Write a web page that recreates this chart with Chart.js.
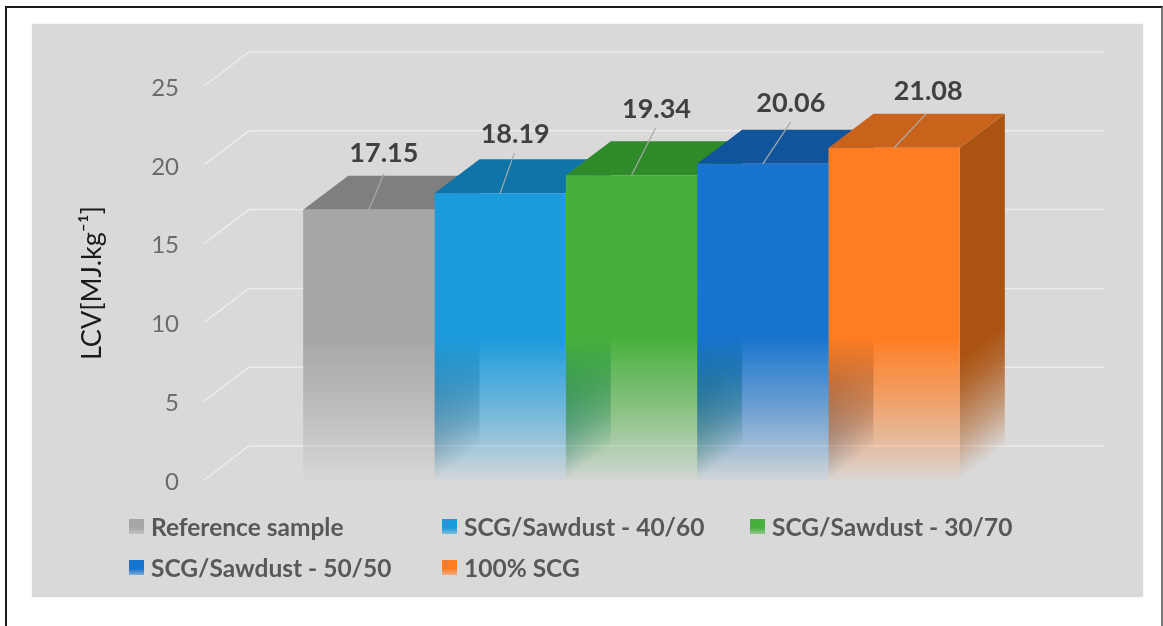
<!DOCTYPE html>
<html>
<head>
<meta charset="utf-8">
<title>LCV</title>
<script src="https://cdn.jsdelivr.net/npm/chart.js@4"></script>
<style>
    html, body { margin: 0; padding: 0; background: #fff; overflow: hidden; }
    #wrap { position: relative; width: 1163px; height: 626px; overflow: hidden; }
    #frame { position: absolute; left: 5px; top: 6px; width: 1154px; height: 640px; border: 2px solid #1a1a1a; border-right-color: #777; }
    #panel { position: absolute; left: 32px; top: 24px; width: 1111px; height: 573px; background: #d9d9d9; box-shadow: 0 0 2px #e8e8e8; }
    canvas { position: absolute; left: 0; top: 0; filter: blur(0.6px); }
</style>
</head>
<body>
<div id="wrap">
    <div id="frame"></div>
    <div id="panel"></div>
    <canvas id="grafica" width="1163" height="626"></canvas>
</div>
<script>
const categorias = [''];
const series = ['Reference sample', 'SCG/Sawdust - 40/60', 'SCG/Sawdust - 30/70', 'SCG/Sawdust - 50/50', '100% SCG'];
const valores = [17.15, 18.19, 19.34, 20.06, 21.08];
const colorFrente = ['166,166,166', '27,155,220', '71,176,60', '24,116,205', '255,125,34'];
const colorArriba = ['127,127,127', '15,116,168', '47,138,42', '16,84,156', '201,98,26'];
const colorLado = ['105,105,105', '14,92,135', '36,105,32', '12,62,115', '171,83,17'];

// desplazamiento de la pared del fondo respecto al plano frontal
const fondoX = 45;
const fondoY = -34;

// etiquetas: posicion relativa a la parte alta del frente de cada barra
const etiquetaDx = [15, 15, 25, 28, 34];
const etiquetaDy = [-56, -59, -66, -61, -56];
const lineaDx = [15, 14, 24, 28, 32];
const lineaDy = [-36, -40, -47, -42, -34];

const leyendaX = [129, 442, 750, 129, 442];
const leyendaY = [527, 527, 527, 568, 568];

function gradienteFrente(ctx, area, y, rgb) {
    const g = ctx.createLinearGradient(0, y.getPixelForValue(9), 0, area.bottom);
    g.addColorStop(0, `rgba(${rgb},1)`);
    g.addColorStop(0.08, `rgba(${rgb},0.92)`);
    g.addColorStop(0.45, `rgba(${rgb},0.6)`);
    g.addColorStop(0.8, `rgba(${rgb},0.25)`);
    g.addColorStop(1, `rgba(${rgb},0.04)`);
    return g;
}

function dibujarParedFondo(chart) {
    const { ctx, chartArea, scales } = chart;
    ctx.save();
    ctx.strokeStyle = '#ececec';
    ctx.lineWidth = 1.5;
    scales.y.ticks.forEach(t => {
        const py = scales.y.getPixelForValue(t.value);
        ctx.beginPath();
        ctx.moveTo(chartArea.left, py);
        ctx.lineTo(chartArea.left + fondoX, py + fondoY);
        ctx.lineTo(chartArea.right + fondoX, py + fondoY);
        ctx.stroke();
    });
    ctx.restore();
}

function dibujarCaras(chart) {
    const { ctx } = chart;
    series.forEach((s, i) => {
        const bar = chart.getDatasetMeta(i).data[0];
        const der = bar.x + bar.width / 2;
        const izq = bar.x - bar.width / 2;

        // lado, se desvanece hacia la arista inferior
        const mx = der + fondoX / 2;
        const my = bar.base + fondoY / 2;
        const g = ctx.createLinearGradient(mx, my, mx - 59, my - 78);
        g.addColorStop(0, `rgba(${colorLado[i]},0)`);
        g.addColorStop(0.35, `rgba(${colorLado[i]},0.45)`);
        g.addColorStop(0.75, `rgba(${colorLado[i]},0.85)`);
        g.addColorStop(1, `rgba(${colorLado[i]},1)`);
        ctx.fillStyle = g;
        ctx.beginPath();
        ctx.moveTo(der, bar.y);
        ctx.lineTo(der + fondoX, bar.y + fondoY);
        ctx.lineTo(der + fondoX, bar.base + fondoY);
        ctx.lineTo(der, bar.base);
        ctx.closePath();
        ctx.fill();

        // tapa
        ctx.fillStyle = `rgb(${colorArriba[i]})`;
        ctx.beginPath();
        ctx.moveTo(izq, bar.y);
        ctx.lineTo(der, bar.y);
        ctx.lineTo(der + fondoX, bar.y + fondoY);
        ctx.lineTo(izq + fondoX, bar.y + fondoY);
        ctx.closePath();
        ctx.fill();
    });
}

function dibujarEtiquetas(chart) {
    const { ctx } = chart;
    ctx.save();
    series.forEach((s, i) => {
        const bar = chart.getDatasetMeta(i).data[0];
        ctx.strokeStyle = '#a9a9a9';
        ctx.lineWidth = 1.2;
        ctx.beginPath();
        ctx.moveTo(bar.x, bar.y);
        ctx.lineTo(bar.x + lineaDx[i], bar.y + lineaDy[i]);
        ctx.stroke();

        ctx.fillStyle = '#404040';
        ctx.font = 'bold 27px Lato';
        ctx.textAlign = 'center';
        ctx.textBaseline = 'middle';
        ctx.fillText(valores[i].toFixed(2), bar.x + etiquetaDx[i], bar.y + etiquetaDy[i]);
    });
    ctx.restore();
}

function dibujarLeyenda(chart) {
    const { ctx } = chart;
    ctx.save();
    series.forEach((s, i) => {
        const x = leyendaX[i];
        const y = leyendaY[i];
        const g = ctx.createLinearGradient(0, y - 8, 0, y + 7);
        g.addColorStop(0, `rgb(${colorFrente[i]})`);
        g.addColorStop(0.6, `rgb(${colorFrente[i]})`);
        g.addColorStop(1, `rgba(${colorFrente[i]},0.45)`);
        ctx.fillStyle = g;
        ctx.fillRect(x, y - 8, 15, 15);

        ctx.fillStyle = '#585858';
        ctx.font = 'bold 24.5px Lato';
        ctx.textAlign = 'left';
        ctx.textBaseline = 'middle';
        ctx.fillText(s, x + 22, y + 1);
    });
    ctx.restore();
}

const barras3d = {
    id: 'barras3d',
    beforeDatasetsDraw(chart) {
        dibujarParedFondo(chart);
        dibujarCaras(chart);
    },
    afterDatasetsDraw(chart) {
        dibujarEtiquetas(chart);
        dibujarLeyenda(chart);
    }
};

const config = {
    type: 'bar',
    data: {
        labels: categorias,
        datasets: series.map((s, i) => ({
            label: s,
            data: [valores[i]],
            borderWidth: 0,
            backgroundColor(c) {
                const { ctx, chartArea, scales } = c.chart;
                if (!chartArea) return `rgb(${colorFrente[i]})`;
                return gradienteFrente(ctx, chartArea, scales.y, colorFrente[i]);
            }
        }))
    },
    options: {
        responsive: false,
        animation: false,
        categoryPercentage: 0.768,
        barPercentage: 1,
        layout: { padding: { left: 76, right: 104, top: 86, bottom: 146 } },
        plugins: {
            legend: { display: false },
            tooltip: { enabled: false }
        },
        scales: {
            x: { display: false },
            y: {
                min: 0,
                max: 25,
                afterFit(scale) { scale.width = 128; },
                grid: { display: false },
                border: { display: false },
                ticks: {
                    stepSize: 5,
                    padding: 17,
                    labelOffset: 2,
                    color: '#6b6b6b',
                    font: { family: 'Lato', size: 24 }
                },
                title: {
                    display: true,
                    text: 'LCV[MJ.kg⁻¹]',
                    color: '#1a1a1a',
                    padding: 0,
                    font: { family: 'Lato', size: 27 }
                }
            }
        }
    },
    plugins: [barras3d]
};

const grafica = new Chart(document.getElementById('grafica').getContext('2d'), config);
</script>
</body>
</html>
